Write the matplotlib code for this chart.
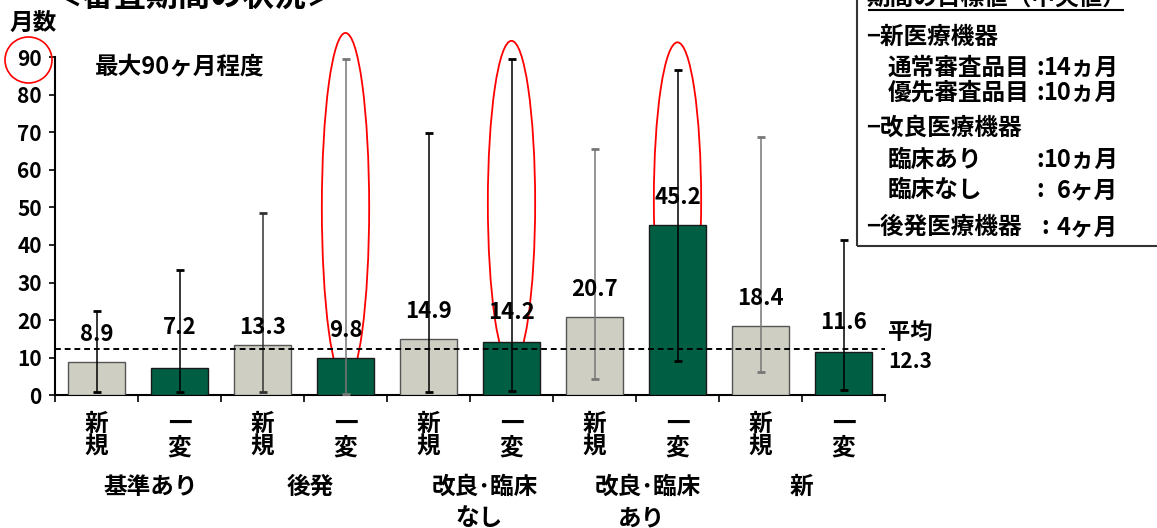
import numpy as np
import matplotlib.pyplot as plt
from matplotlib.patches import Ellipse, Rectangle
from matplotlib.lines import Line2D

plt.rcParams['font.family'] = ['Noto Sans CJK JP', 'DejaVu Sans']
plt.rcParams['font.weight'] = 'bold'

# data
kinds = ['新\n規', '一\n変'] * 5
groups = ['基準あり', '後発', '改良･臨床\nなし', '改良･臨床\nあり', '新']
means = [8.9, 7.2, 13.3, 9.8, 14.9, 14.2, 20.7, 45.2, 18.4, 11.6]
lows = [1.0, 1.0, 1.0, 0.3, 1.0, 1.2, 4.3, 9.2, 6.3, 1.4]
highs = [22.3, 33.3, 48.5, 89.6, 69.8, 89.5, 65.5, 86.5, 68.6, 41.3]
average = 12.3
yticks = [0, 10, 20, 30, 40, 50, 60, 70, 80, 90]
circled = [3, 5, 7]
ring_top = [96.4, 94.3, 93.9]
ring_bottom = [3.5, 8.0, 10.0]

W, H = 1157, 528
LIGHT = '#cfcec2'
DARK = '#005e43'


def fx(x):
    return x / W


def fy(y):
    return 1 - y / H


fig = plt.figure(figsize=(W / 100, H / 100), dpi=100)
ax = fig.add_axes([fx(55), fy(395.3), (885 - 55) / W, (395.3 - 57) / H])

x = np.arange(len(means))
colors = [LIGHT if i % 2 == 0 else DARK for i in x]
edges = ['#555555' if i % 2 == 0 else '#1a1a1a' for i in x]
ax.bar(x, means, width=0.68, color=colors, edgecolor=edges, linewidth=1, zorder=3)

# range whiskers
m = np.array(means)
err = [m - np.array(lows), np.array(highs) - m]
wcol = ['black', 'black', '#333333', '#777777', 'black', 'black', '#777777', 'black', '#777777', 'black']
for i in x:
    ax.errorbar(i, means[i], yerr=[[err[0][i]], [err[1][i]]], fmt='none',
                ecolor=wcol[i], elinewidth=1.1, capsize=3, capthick=2, zorder=4)

# red rings
for k, i in enumerate(circled):
    cy = (ring_top[k] + ring_bottom[k]) / 2
    ax.add_patch(Ellipse((i, cy), 0.57, ring_top[k] - ring_bottom[k], fill=False,
                         ec='red', lw=1.3, zorder=2, clip_on=False))

ax.axhline(average, color='black', lw=1.4, ls=(0, (3, 2)), zorder=5)

# value labels
offs = [20, 29, 13, 20, 20, 21, 20, 20, 20, 21]
for i in x:
    ax.annotate(f'{means[i]}', (i, means[i]), xytext=(0, offs[i]), textcoords='offset points',
                ha='center', va='center', fontsize=16, zorder=6)

ax.set_xlim(-0.5, 9.5)
ax.set_ylim(0, 90)
ax.set_yticks(yticks)
ax.tick_params(axis='y', labelsize=15, length=4.5, width=1.2, pad=5)
ax.set_xticks(x, kinds)
ax.tick_params(axis='x', which='major', length=0, labelsize=17, pad=12)
plt.setp(ax.get_xticklabels(), linespacing=0.95)
ax.set_xticks(np.arange(-0.5, 10, 1), minor=True)
ax.tick_params(axis='x', which='minor', length=5, width=1.2)
for s in ['top', 'right']:
    ax.spines[s].set_visible(False)
for s in ['left', 'bottom']:
    ax.spines[s].set_linewidth(1.5)

# group labels under the axis
fig.text(fx(151), fy(487), groups[0], ha='center', va='center', fontsize=17)
fig.text(fx(310), fy(487), groups[1], ha='center', va='center', fontsize=17)
for gx, g in zip([432, 595], groups[2:4]):
    top, bot = g.split('\n')
    fig.text(fx(gx), fy(487), top, ha='left', va='center', fontsize=17)
    fig.text(fx(gx + 23), fy(518), bot, ha='left', va='center', fontsize=17)
fig.text(fx(801), fy(487), groups[4], ha='center', va='center', fontsize=17)

# titles and notes
fig.text(fx(195), fy(6), '＜審査期間の状況＞', ha='center', va='baseline', fontsize=23)
fig.text(fx(10), fy(23), '月数', ha='left', va='center', fontsize=17)
fig.text(fx(95), fy(66), '最大90ヶ月程度', ha='left', va='center', fontsize=17)
fig.text(fx(888), fy(332), '平均', ha='left', va='center', fontsize=16)
fig.text(fx(888), fy(362), f'{average}', ha='left', va='center', fontsize=15)
fig.add_artist(Ellipse((fx(28.5), fy(60)), 47 / W, 46 / H, transform=fig.transFigure,
                       fill=False, ec='red', lw=1.2))

# target box
fig.add_artist(Rectangle((fx(857), fy(246)), (1200 - 857) / W, 270 / H,
                         transform=fig.transFigure, fill=False, ec='#333333', lw=1.5))
fig.text(fx(996), fy(5), '期間の目標値（中央値）', ha='center', va='baseline', fontsize=17)
fig.add_artist(Line2D([fx(869), fx(1123)], [fy(9.5), fy(9.5)], transform=fig.transFigure,
                      color='black', lw=1.5))
heads = [('−新医療機器', 37), ('−改良医療機器', 128)]
for t, y in heads:
    fig.text(fx(866), fy(y), t, ha='left', va='center', fontsize=17)
rows = [('通常審査品目', 68, '14ヵ月'),
        ('優先審査品目', 93, '10ヵ月'),
        ('臨床あり', 160, '10ヵ月'),
        ('臨床なし', 190, '6ヶ月')]
for t, y, v in rows:
    fig.text(fx(888), fy(y), t, ha='left', va='center', fontsize=17)
    fig.text(fx(1040), fy(y), ':', ha='center', va='center', fontsize=17)
    fig.text(fx(1118), fy(y), v, ha='right', va='center', fontsize=17)
fig.text(fx(866), fy(227), '−後発医療機器', ha='left', va='center', fontsize=17)
fig.text(fx(1045), fy(227), ':', ha='center', va='center', fontsize=17)
fig.text(fx(1118), fy(227), '4ヶ月', ha='right', va='center', fontsize=17)

fig.savefig('out.png', dpi=100)
